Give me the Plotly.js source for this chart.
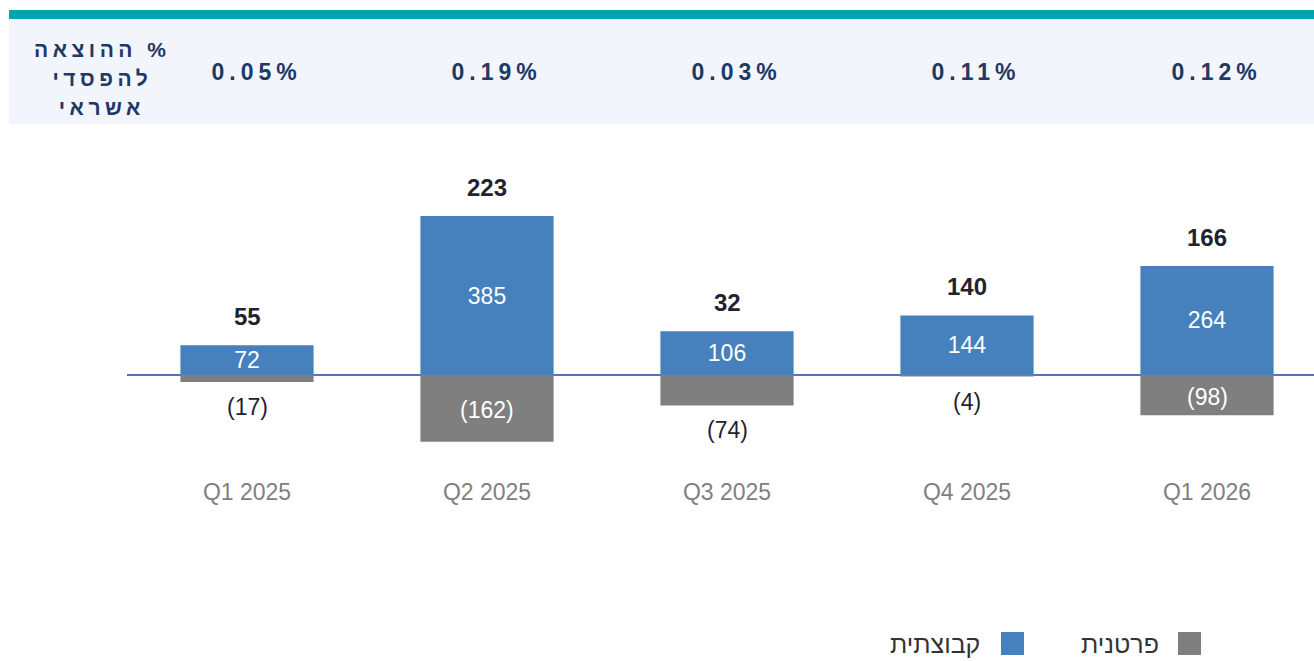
<!DOCTYPE html>
<html>
<head>
<meta charset="utf-8">
<script src="https://cdn.plot.ly/plotly-3.0.1.min.js"></script>
<style>
  html, body { margin: 0; padding: 0; background: #ffffff; }
  #chart { width: 1314px; height: 661px; }
</style>
<style id="spacing"></style>
</head>
<body>
<div id="chart"></div>
<script>
// ---- data ----
const categories = ['Q1 2025', 'Q2 2025', 'Q3 2025', 'Q4 2025', 'Q1 2026'];
const groupValues = [72, 385, 106, 144, 264];          // קבוצתית
const individualValues = [-17, -162, -74, -4, -98];     // פרטנית
const totals = [55, 223, 32, 140, 166];
const lossRates = ['0.05%', '0.19%', '0.03%', '0.11%', '0.12%'];
const headerLines = ['\u200F% ההוצאה', 'להפסדי', 'אשראי'];
const seriesNames = ['קבוצתית', 'פרטנית'];

// ---- styling ----
const BLUE = '#4681bd';
const GREY = '#7f7f7f';
const NAVY = '#1f3864';
const DARK = '#1f2330';
const numFont = '"Liberation Sans", Arial, sans-serif';

// layout geometry
const W = 1314, H = 661;
const L = 127, R = 0, T = 148, B = 185;
const plotW = W - L - R, plotH = H - T - B;
const px = v => (v - L) / plotW;          // page x -> paper x
const py = v => (H - B - v) / plotH;      // page y -> paper y

const fmtNeg = v => '(' + Math.abs(v) + ')';

const traces = [
  {
    type: 'bar',
    name: seriesNames[0],
    x: categories,
    y: groupValues,
    marker: { color: BLUE },
    width: 0.555,
    text: groupValues.map(String),
    textposition: 'inside',
    insidetextanchor: 'middle',
    textangle: 0,
    constraintext: 'none',
    textfont: { family: numFont, size: 23, color: '#ffffff' },
    hoverinfo: 'skip'
  },
  {
    type: 'bar',
    name: seriesNames[1],
    x: categories,
    y: individualValues,
    marker: { color: GREY },
    width: 0.555,
    hoverinfo: 'skip'
  }
];

const annotations = [];
const spacedRates = [];
const spacedHeb = [];

// header: rates
lossRates.forEach((r, i) => {
  spacedRates.push(annotations.length);
  annotations.push({
    xref: 'x', yref: 'paper', x: categories[i], y: py(72.5), xshift: 9,
    text: r, showarrow: false, xanchor: 'center', yanchor: 'middle',
    font: { family: numFont, size: 23, color: NAVY, weight: 'bold' }
  });
});
// header: Hebrew label
const headerY = [50, 78.5, 107];
headerLines.forEach((t, i) => {
  spacedHeb.push(annotations.length);
  annotations.push({
    xref: 'paper', yref: 'paper', x: px(98), y: py(headerY[i]), xshift: 4,
    text: t, showarrow: false, xanchor: 'center', yanchor: 'middle',
    font: { family: numFont, size: 21, color: NAVY, weight: 'bold' }
  });
});
// totals
totals.forEach((t, i) => {
  annotations.push({
    xref: 'x', yref: 'y', x: categories[i], y: groupValues[i],
    text: String(t), showarrow: false, xanchor: 'center', yanchor: 'middle', yshift: 29,
    font: { family: numFont, size: 24, color: DARK, weight: 'bold' }
  });
});
// individual (negative) labels: inside when the bar is tall enough
individualValues.forEach((v, i) => {
  const inside = Math.abs(v) >= 85;
  annotations.push({
    xref: 'x', yref: 'y', x: categories[i], y: inside ? v / 2 : v,
    text: fmtNeg(v), showarrow: false, xanchor: 'center', yanchor: 'middle',
    yshift: inside ? -2 : -25,
    font: { family: numFont, size: 23, color: inside ? '#ffffff' : DARK }
  });
});
// custom RTL legend text
const legendItems = [
  { name: seriesNames[1], color: GREY, sq: [1178, 1201], textRight: 1161 },
  { name: seriesNames[0], color: BLUE, sq: [1001, 1024], textRight: 982 }
];
legendItems.forEach(it => {
  annotations.push({
    xref: 'paper', yref: 'paper', x: px(it.textRight), y: py(644),
    text: it.name, showarrow: false, xanchor: 'right', yanchor: 'middle',
    font: { family: numFont, size: 25, color: '#333333' }
  });
});

const shapes = [
  { type: 'rect', xref: 'paper', yref: 'paper', x0: px(9), x1: 1, y0: py(124), y1: py(19),
    fillcolor: '#f2f5fb', line: { width: 0 }, layer: 'below' },
  { type: 'rect', xref: 'paper', yref: 'paper', x0: px(9), x1: 1, y0: py(19), y1: py(10),
    fillcolor: '#00a3b3', line: { width: 0 }, layer: 'below' }
];
legendItems.forEach(it => {
  shapes.push({ type: 'rect', xref: 'paper', yref: 'paper',
    x0: px(it.sq[0]), x1: px(it.sq[1]), y0: py(655), y1: py(632),
    fillcolor: it.color, line: { width: 0 } });
});

const layout = {
  width: W, height: H,
  margin: { l: L, r: R, t: T, b: B, pad: 0 },
  paper_bgcolor: '#ffffff', plot_bgcolor: 'rgba(0,0,0,0)',
  barmode: 'relative',
  showlegend: false,
  xaxis: {
    type: 'category', range: [-0.5, -0.5 + plotW / 240],
    showgrid: false, showline: false, ticks: '', zeroline: false,
    tickfont: { family: numFont, size: 23, color: '#808080' },
    ticklabelstandoff: 0, fixedrange: true
  },
  yaxis: {
    range: [-245, 550], showgrid: false, showticklabels: false, ticks: '',
    zeroline: true, zerolinecolor: '#5277b0', zerolinewidth: 1.5,
    showline: false, fixedrange: true
  },
  shapes: shapes,
  annotations: annotations
};

document.getElementById('spacing').textContent =
  spacedRates.map(i => '.annotation[data-index="' + i + '"] text').join(', ') +
  ' { letter-spacing: 5px; } ' +
  spacedHeb.map(i => '.annotation[data-index="' + i + '"] text').join(', ') +
  ' { letter-spacing: 4.5px; }';

Plotly.newPlot('chart', traces, layout, { displayModeBar: false, staticPlot: true });
</script>
</body>
</html>
